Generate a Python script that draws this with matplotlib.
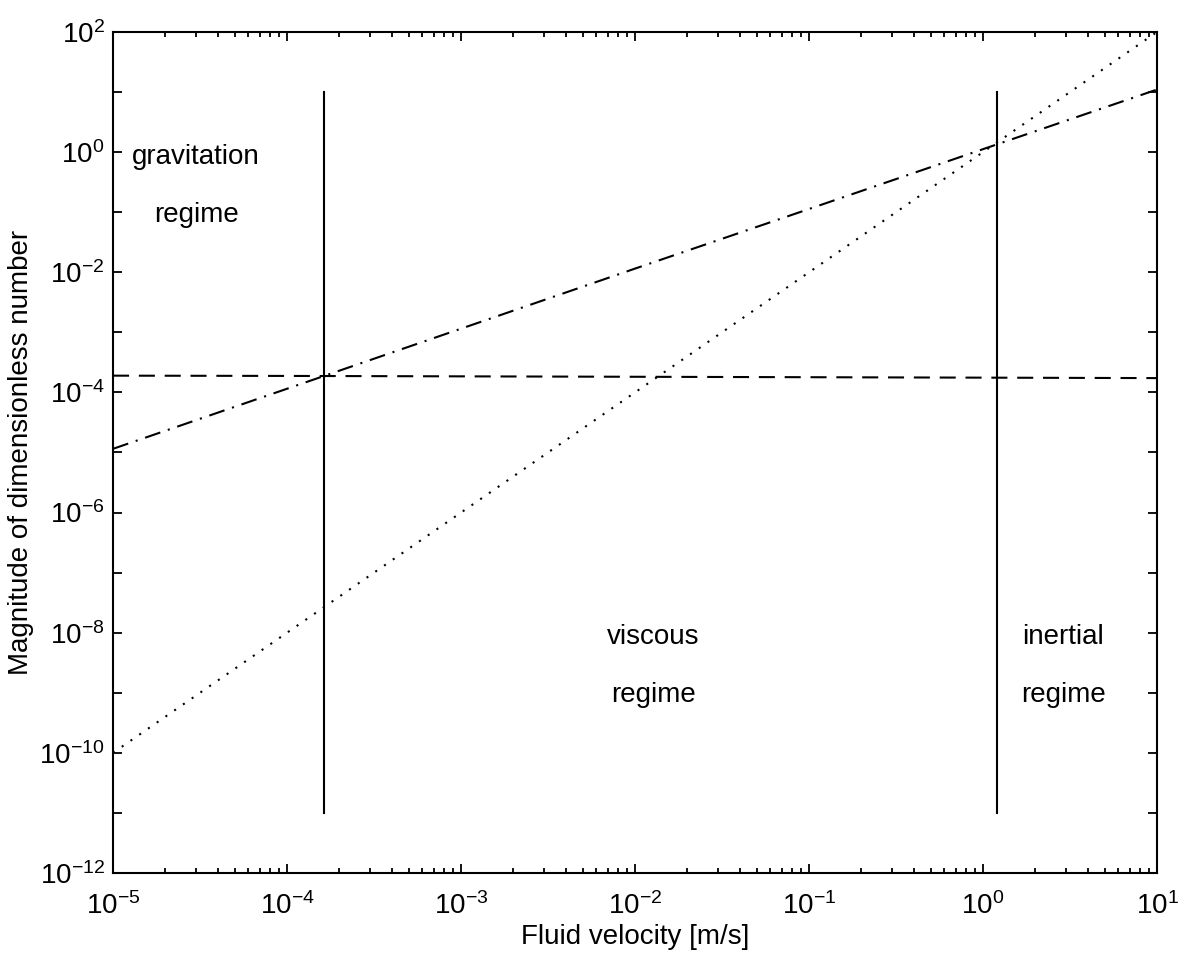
import numpy as np
import matplotlib
matplotlib.use("Agg")
import matplotlib.pyplot as plt

plt.rcParams["font.family"] = ["Liberation Sans", "DejaVu Sans"]
plt.rcParams["mathtext.fontset"] = "custom"
plt.rcParams["mathtext.rm"] = "Liberation Sans"
plt.rcParams["mathtext.it"] = "Liberation Sans"

# data
velocity = [1e-5, 1e-4, 1e-3, 1e-2, 1e-1, 1e0, 1e1]
dashed_vals = [1.9e-4, 1.88e-4, 1.85e-4, 1.82e-4, 1.79e-4, 1.76e-4, 1.73e-4]
dashdot_vals = [1.15e-5, 1.15e-4, 1.15e-3, 1.15e-2, 1.13e-1, 1.12e0, 1.1e1]
dotted_vals = [1e-10, 1e-8, 1e-6, 1e-4, 1e-2, 1e0, 1e2]

bound_x = [1.63e-4, 1.2]
bound_y = [1e-11, 1e1]

labels = [("gravitation", 3.0e-5, 0.83), ("regime", 3.0e-5, 10**-1.05),
          ("viscous", 0.0127, 10**-8.07), ("regime", 0.0127, 10**-9.04),
          ("inertial", 2.9, 10**-8.07), ("regime", 2.9, 10**-9.04)]

fig = plt.figure(figsize=(11.81, 9.57), dpi=100)
ax = fig.add_axes([0.0957, 0.0878, 0.884, 0.8788])

ax.loglog(velocity, dashed_vals, color="black", lw=1.5, linestyle=(0, (7.7, 4.7)))
ax.loglog(velocity, dashdot_vals, color="black", lw=1.5, linestyle=(0, (7.7, 3.8, 1, 3.8)))
ax.loglog(velocity, dotted_vals, color="black", lw=1.5, linestyle=(0, (1, 4.1)))
for bx in bound_x:
    ax.loglog([bx, bx], bound_y, color="black", lw=1.5)

for txt, tx, ty in labels:
    ax.text(tx, ty, txt, ha="center", va="center", fontsize=20)

ax.set_xlim(1e-5, 1e1)
ax.set_ylim(1e-12, 1e2)

ax.set_xticks([10.0**k for k in range(-5, 2)])
ax.set_xticklabels([r"$10^{%d}$" % k for k in range(-5, 2)])
ax.set_yticks([10.0**k for k in range(-12, 3)])
ax.set_yticklabels([r"$10^{%d}$" % k if k % 2 == 0 else "" for k in range(-12, 3)])
ax.minorticks_on()
ax.yaxis.set_minor_locator(matplotlib.ticker.NullLocator())
ax.xaxis.set_minor_locator(matplotlib.ticker.LogLocator(base=10, subs=np.arange(2, 10), numticks=20))
ax.xaxis.set_minor_formatter(matplotlib.ticker.NullFormatter())

ax.tick_params(which="both", direction="in", top=True, right=True, labelsize=20, width=1.3)
ax.tick_params(which="major", length=6.5)
ax.tick_params(which="minor", length=3.5)
ax.tick_params(axis="x", which="major", pad=14)
ax.tick_params(axis="y", which="major", pad=6)
for s in ax.spines.values():
    s.set_linewidth(1.5)

ax.set_xlabel("Fluid velocity [m/s]", fontsize=20, labelpad=3)
ax.set_ylabel("Magnitude of dimensionless number", fontsize=20, labelpad=4)

fig.savefig("out.png", dpi=100)
